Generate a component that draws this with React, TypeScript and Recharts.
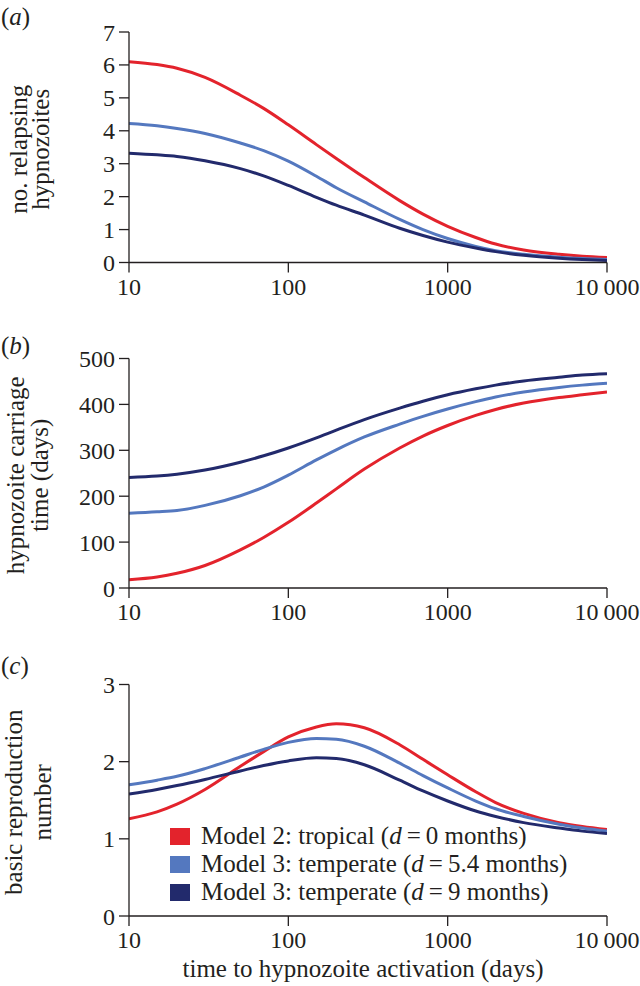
import React from 'react';
import { LineChart, Line, XAxis, YAxis, Label } from 'recharts';

// time to hypnozoite activation (days), log-spaced samples
const days = [10, 15, 20, 30, 50, 70, 100, 150, 200, 300, 500, 700, 1000, 1500, 2000, 3000, 5000, 7000, 10000];
const xTicks = [10, 100, 1000, 10000];

// (a) number of relapsing hypnozoites
const relapseTropical = [6.1, 6.01, 5.9, 5.62, 5.08, 4.68, 4.18, 3.58, 3.16, 2.58, 1.88, 1.47, 1.1, 0.76, 0.56, 0.38, 0.25, 0.19, 0.15];
const relapseTemp54 = [4.22, 4.15, 4.07, 3.92, 3.63, 3.4, 3.08, 2.62, 2.27, 1.84, 1.31, 1.0, 0.73, 0.49, 0.36, 0.25, 0.16, 0.12, 0.09];
const relapseTemp9 = [3.32, 3.27, 3.22, 3.09, 2.85, 2.63, 2.34, 1.98, 1.74, 1.44, 1.04, 0.82, 0.62, 0.44, 0.33, 0.22, 0.13, 0.09, 0.06];
const relapseTicks = [0, 1, 2, 3, 4, 5, 6, 7];

// (b) hypnozoite carriage time (days)
const carriageTropical = [18, 24, 32, 49, 83, 110, 143, 185, 216, 259, 305, 331, 354, 376, 389, 403, 415, 421, 427];
const carriageTemp54 = [163, 166, 169, 180, 201, 220, 246, 279, 301, 329, 357, 374, 390, 406, 416, 427, 437, 442, 446];
const carriageTemp9 = [241, 244, 248, 257, 274, 288, 305, 327, 344, 367, 392, 407, 421, 434, 442, 451, 459, 464, 467];
const carriageTicks = [0, 100, 200, 300, 400, 500];

// (c) basic reproduction number
const r0Tropical = [1.26, 1.35, 1.45, 1.64, 1.94, 2.13, 2.32, 2.45, 2.49, 2.44, 2.22, 2.03, 1.83, 1.61, 1.47, 1.33, 1.21, 1.16, 1.12];
const r0Temp54 = [1.7, 1.76, 1.81, 1.91, 2.06, 2.16, 2.25, 2.3, 2.29, 2.2, 1.98, 1.82, 1.66, 1.49, 1.39, 1.29, 1.19, 1.14, 1.1];
const r0Temp9 = [1.58, 1.64, 1.69, 1.77, 1.88, 1.95, 2.01, 2.05, 2.04, 1.96, 1.76, 1.62, 1.49, 1.36, 1.29, 1.21, 1.14, 1.1, 1.07];
const r0Ticks = [0, 1, 2, 3];

const seriesNames = [
  'Model 2: tropical (d = 0 months)',
  'Model 3: temperate (d = 5.4 months)',
  'Model 3: temperate (d = 9 months)',
];

const RED = '#e3232c';
const LIGHT = '#5478bf';
const NAVY = '#222a6c';
const COLORS = [RED, LIGHT, NAVY];
const INK = '#231f20';
const FONT = '"Liberation Serif", "Times New Roman", serif';

const makeRows = (a: number[], b: number[], c: number[]) =>
  days.map((t, i) => ({ t, s0: a[i], s1: b[i], s2: c[i] }));

const fmtX = (v: number) => (v === 10000 ? '10\u2009000' : String(v));

const tickStyle = { fill: INK, fontSize: 24, fontFamily: FONT };

interface PanelProps {
  top: number;
  height: number;
  plotTop: number;
  plotBottom: number;
  rows: { t: number; s0: number; s1: number; s2: number }[];
  yDomain: [number, number];
  yTicks: number[];
  yLabel: string[];
  labelX: [number, number];
  letter: string;
  letterY: number;
  xTitle?: string;
}

function Panel({ top, height, plotTop, plotBottom, rows, yDomain, yTicks, yLabel, labelX, letter, letterY, xTitle }: PanelProps) {
  const cy = (plotTop + plotBottom) / 2 + 2;
  return (
    <div style={{ position: 'absolute', left: 0, top, width: 640, height }}>
      <LineChart width={640} height={height} data={rows} margin={{ top: plotTop, right: 33, bottom: 0, left: 0 }}>
        <XAxis
          dataKey="t"
          type="number"
          scale="log"
          domain={[10, 10000]}
          ticks={xTicks}
          tickFormatter={fmtX}
          allowDataOverflow
          height={height - plotBottom}
          stroke={INK}
          strokeWidth={1.3}
          tickSize={10}
          tickMargin={5}
          tick={tickStyle}
        >
          {xTitle && (
            <Label
              content={() => (
                <text x={363} y={height - 9} textAnchor="middle" fill={INK} fontSize={25} fontFamily={FONT}>
                  {xTitle}
                </text>
              )}
            />
          )}
        </XAxis>
        <YAxis
          type="number"
          domain={yDomain}
          ticks={yTicks}
          width={129}
          stroke={INK}
          strokeWidth={1.3}
          tickSize={10}
          tickMargin={4}
          tick={tickStyle}
        >
          <Label
            content={() => (
              <g fill={INK} fontSize={25} fontFamily={FONT}>
                <text x={labelX[0]} y={cy} textAnchor="middle" transform={`rotate(-90, ${labelX[0]}, ${cy})`}>
                  {yLabel[0]}
                </text>
                <text x={labelX[1]} y={cy} textAnchor="middle" transform={`rotate(-90, ${labelX[1]}, ${cy})`}>
                  {yLabel[1]}
                </text>
              </g>
            )}
          />
        </YAxis>
        {COLORS.map((c, i) => (
          <Line
            key={i}
            dataKey={`s${i}`}
            name={seriesNames[i]}
            type="monotone"
            stroke={c}
            strokeWidth={3}
            dot={false}
            isAnimationActive={false}
          />
        ))}
      </LineChart>
      <div style={{ position: 'absolute', left: 1, top: letterY, fontSize: 25, fontFamily: FONT, color: INK, lineHeight: 1 }}>
        (<i>{letter}</i>)
      </div>
    </div>
  );
}

function LegendBox() {
  const parts = [
    ['Model 2: tropical (', '0 months)'],
    ['Model 3: temperate (', '5.4 months)'],
    ['Model 3: temperate (', '9 months)'],
  ];
  return (
    <div style={{ position: 'absolute', left: 170, top: 822, fontFamily: FONT, fontSize: 25, color: INK }}>
      {parts.map((p, i) => (
        <div key={i} style={{ display: 'flex', alignItems: 'center', height: 28 }}>
          <span style={{ width: 20, height: 17, background: COLORS[i], display: 'inline-block', marginRight: 11 }} />
          <span style={{ whiteSpace: 'nowrap' }}>
            {p[0]}
            <i>d</i>
            {'\u2009=\u2009'}
            {p[1]}
          </span>
        </div>
      ))}
    </div>
  );
}

export default function App() {
  return (
    <div style={{ position: 'absolute', left: 0, top: 0, width: 640, height: 986, background: '#fff', overflow: 'hidden' }}>
      <Panel
        top={0}
        height={320}
        plotTop={32}
        plotBottom={262.5}
        rows={makeRows(relapseTropical, relapseTemp54, relapseTemp9)}
        yDomain={[0, 7]}
        yTicks={relapseTicks}
        yLabel={['no. relapsing', 'hypnozoites']}
        labelX={[27, 49]}
        letter="a"
        letterY={4}
      />
      <Panel
        top={320}
        height={320}
        plotTop={38.5}
        plotBottom={268}
        rows={makeRows(carriageTropical, carriageTemp54, carriageTemp9)}
        yDomain={[0, 500]}
        yTicks={carriageTicks}
        yLabel={['hypnozoite carriage', 'time (days)']}
        labelX={[24, 48]}
        letter="b"
        letterY={13}
      />
      <Panel
        top={640}
        height={346}
        plotTop={44.5}
        plotBottom={276}
        rows={makeRows(r0Tropical, r0Temp54, r0Temp9)}
        yDomain={[0, 3]}
        yTicks={r0Ticks}
        yLabel={['basic reproduction', 'number']}
        labelX={[22, 51]}
        letter="c"
        letterY={13}
        xTitle="time to hypnozoite activation (days)"
      />
      <LegendBox />
    </div>
  );
}
